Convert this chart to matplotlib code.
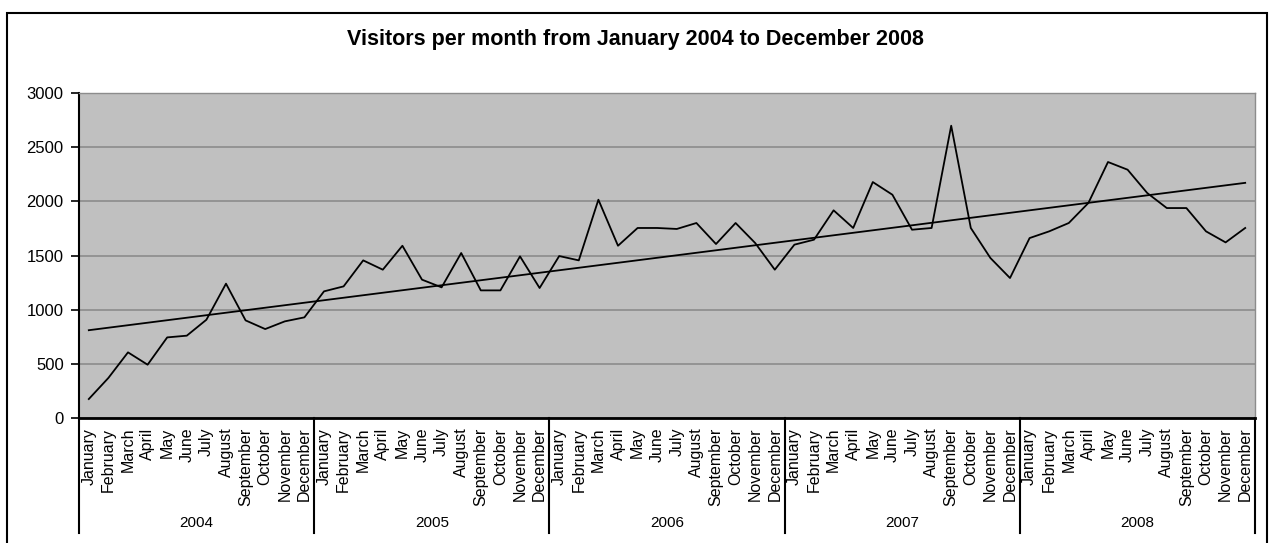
import numpy as np
import matplotlib
matplotlib.use("Agg")
import matplotlib.pyplot as plt
import matplotlib.transforms as mtransforms
from matplotlib.patches import Rectangle

plt.rcParams['font.family'] = ['Liberation Sans', 'DejaVu Sans']

years = ["2004", "2005", "2006", "2007", "2008"]
months = ["January", "February", "March", "April", "May", "June", "July",
          "August", "September", "October", "November", "December"]

visitors_2004 = [175, 370, 606, 492, 744, 760, 907, 1240, 901, 821, 892, 929]
visitors_2005 = [1169, 1215, 1455, 1369, 1590, 1277, 1206, 1523, 1178, 1178, 1492, 1200]
visitors_2006 = [1495, 1455, 2015, 1590, 1754, 1754, 1745, 1800, 1606, 1800, 1615, 1369]
visitors_2007 = [1600, 1646, 1917, 1754, 2178, 2061, 1738, 1754, 2698, 1754, 1477, 1292]
visitors_2008 = [1661, 1723, 1800, 1985, 2363, 2292, 2077, 1938, 1938, 1723, 1621, 1754]

values = np.array(visitors_2004 + visitors_2005 + visitors_2006 + visitors_2007 + visitors_2008)
labels = months * len(years)
x = np.arange(len(values))

W, H = 1271, 543
fig = plt.figure(figsize=(W / 100, H / 100), dpi=100)
fig.patch.set_facecolor("white")

# outer chart border
fig.patches.append(Rectangle((7 / W, -0.01), (1267 - 7) / W, (H - 13) / H + 0.01,
                             transform=fig.transFigure, fill=False,
                             edgecolor="black", linewidth=1.5))

left, right, top, bottom = 79, 1255, 93, 418
ax = fig.add_axes([left / W, (H - bottom) / H, (right - left) / W, (bottom - top) / H])
ax.set_facecolor("#C0C0C0")

ax.set_ylim(0, 3000)
ax.set_xlim(-0.5, len(values) - 0.5)
ax.set_yticks(np.arange(0, 3001, 500))
ax.yaxis.grid(True, color="#8c8c8c", linewidth=1.2)
ax.set_axisbelow(True)

ax.plot(x, values, color="black", linewidth=1.3, zorder=3)
coef = np.polyfit(x, values, 1)
ax.plot(x, np.polyval(coef, x), color="black", linewidth=1.3, zorder=3)

for s in ["top", "right"]:
    ax.spines[s].set_color("#8c8c8c")
    ax.spines[s].set_linewidth(1.0)
ax.spines["left"].set_color("black")
ax.spines["left"].set_linewidth(1.5)
ax.spines["bottom"].set_color("black")
ax.spines["bottom"].set_linewidth(2.0)

ax.tick_params(axis="y", direction="out", length=6, width=1.2, labelsize=12, pad=5)
ax.set_xticks(x)
ax.set_xticklabels(labels, rotation=90, fontsize=11.5, va="top", ha="center")
ax.tick_params(axis="x", length=0, pad=7)

# year separators and year labels
trans = mtransforms.blended_transform_factory(ax.transData, ax.transAxes)
sep_bottom = -(533 - bottom) / (bottom - top)
for k in range(len(years) + 1):
    xb = k * 12 - 0.5
    ax.plot([xb, xb], [0, sep_bottom], transform=trans, color="black",
            linewidth=1.5, clip_on=False)
year_y = -(523 - bottom) / (bottom - top)
for k, yr in enumerate(years):
    ax.text(k * 12 + 5.5, year_y, yr, transform=trans, ha="center", va="center",
            fontsize=11)

fig.text(0.5, 1 - 40 / H, "Visitors per month from January 2004 to December 2008",
         ha="center", va="center", fontsize=15.5, fontweight="bold")

fig.savefig("out.png", dpi=100)
